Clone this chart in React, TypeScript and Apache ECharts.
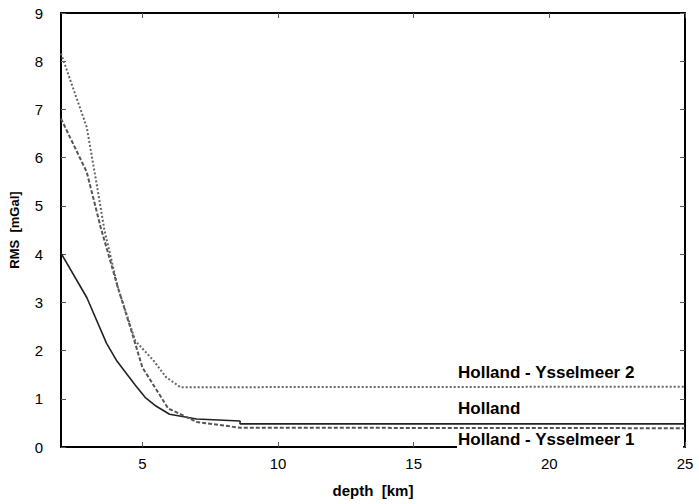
import React, { useEffect, useRef } from "react";
import * as echarts from "echarts";

const xTicks = [5, 10, 15, 20, 25];

const hollandData: [number, number][] = [
  [2, 4.02], [2.95, 3.1], [3.68, 2.15], [4.04, 1.8], [4.74, 1.28], [5.1, 1.03],
  [5.5, 0.85], [6, 0.68], [7, 0.58], [8.6, 0.54], [8.6, 0.48], [25, 0.48],
];
const ysselmeer1Data: [number, number][] = [
  [2, 6.81], [2.95, 5.7], [3.46, 4.56], [4.1, 3.3], [4.6, 2.4], [5, 1.65],
  [5.95, 0.8], [7, 0.52], [8.6, 0.4], [25, 0.39],
];
const ysselmeer2Data: [number, number][] = [
  [2, 8.16], [2.95, 6.63], [3.3, 5.5], [3.6, 4.5], [4.1, 3.3], [4.74, 2.2],
  [5.4, 1.8], [5.87, 1.45], [6.4, 1.24], [25, 1.25],
];

const labelTexts = ["Holland - Ysselmeer 2", "Holland", "Holland - Ysselmeer 1"];

const FONT = "'Liberation Sans', Arial, sans-serif";

export default function App() {
  const ref = useRef<HTMLDivElement>(null);
  useEffect(() => {
    document.body.style.margin = "0";
    if (!ref.current) return;
    const chart = echarts.init(ref.current, undefined, { renderer: "svg" });
    chart.setOption({
      animation: false,
      backgroundColor: "#fff",
      grid: { left: 57, right: 14, top: 13, bottom: 57, show: false },
      xAxis: [
        {
          type: "value", min: 2, max: 25, position: "bottom", splitLine: { show: false },
          axisLine: { show: true, onZero: false, lineStyle: { color: "#000", width: 2 } },
          axisTick: { show: true, inside: true, length: 5, customValues: xTicks, lineStyle: { color: "#555", width: 1 } },
          axisLabel: { customValues: xTicks, fontSize: 15, color: "#000", margin: 9, fontFamily: FONT },
          name: "depth  [km]", nameLocation: "middle", nameGap: 36,
          nameTextStyle: { fontSize: 15, fontWeight: "bold", color: "#000", fontFamily: FONT },
        },
        {
          type: "value", min: 2, max: 25, position: "top", splitLine: { show: false },
          axisLine: { show: true, onZero: false, lineStyle: { color: "#000", width: 2 } },
          axisTick: { show: true, inside: true, length: 5, customValues: xTicks, lineStyle: { color: "#555", width: 1 } },
          axisLabel: { show: false },
        },
      ],
      yAxis: [
        {
          type: "value", min: 0, max: 9, interval: 1, splitLine: { show: false },
          axisLine: { show: true, onZero: false, lineStyle: { color: "#000", width: 2 } },
          axisTick: { show: true, inside: true, length: 5, lineStyle: { color: "#555", width: 1 } },
          axisLabel: { fontSize: 15, color: "#000", margin: 18, fontFamily: FONT },
          name: "RMS  [mGal]", nameLocation: "middle", nameGap: 40,
          nameTextStyle: { fontSize: 13, fontWeight: "bold", color: "#000", fontFamily: FONT },
        },
        {
          type: "value", min: 0, max: 9, interval: 1, position: "right", splitLine: { show: false },
          axisLine: { show: true, onZero: false, lineStyle: { color: "#000", width: 2 } },
          axisTick: { show: true, inside: true, length: 5, lineStyle: { color: "#555", width: 1 } },
          axisLabel: { show: false },
        },
      ],
      series: [
        {
          name: "Holland", type: "line", data: hollandData, showSymbol: false,
          lineStyle: { color: "#222", width: 1.6, type: "solid" },
        },
        {
          name: "Holland - Ysselmeer 1", type: "line", data: ysselmeer1Data, showSymbol: false,
          lineStyle: { color: "#555", width: 2, type: [4, 2] },
        },
        {
          name: "Holland - Ysselmeer 2", type: "line", data: ysselmeer2Data, showSymbol: false,
          lineStyle: { color: "#666", width: 2, type: [2, 2] },
        },
      ],
      graphic: [
        { type: "rect", z: 100, shape: { x: 457, y: 431, width: 226, height: 22 }, style: { fill: "#fff" } },
        { type: "text", z: 101, x: 458, y: 372, style: { text: labelTexts[0], font: `bold 17px ${FONT}`, fill: "#000", verticalAlign: "middle" } },
        { type: "text", z: 101, x: 458, y: 408, style: { text: labelTexts[1], font: `bold 17px ${FONT}`, fill: "#000", verticalAlign: "middle" } },
        { type: "text", z: 101, x: 458, y: 439, style: { text: labelTexts[2], font: `bold 17px ${FONT}`, fill: "#000", verticalAlign: "middle" } },
      ],
    });
    return () => chart.dispose();
  }, []);
  return <div ref={ref} style={{ width: 699, height: 504 }} />;
}
